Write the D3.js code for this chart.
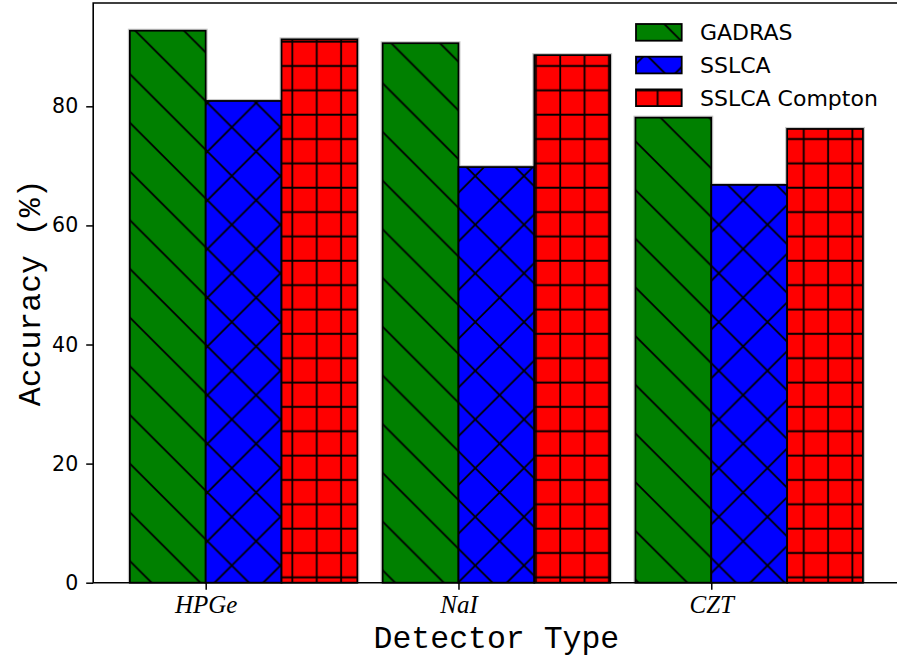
<!DOCTYPE html>
<html>
<head>
<meta charset="utf-8">
<script src="https://cdn.jsdelivr.net/npm/d3@7"></script>
<style>
body { margin: 0; background: #fff; }
svg { display: block; }
</style>
</head>
<body>
<svg width="897" height="658"></svg>
<script>
'use strict';

// data
const detectors = ['HPGe', 'NaI', 'CZT'];
const methods = ['GADRAS', 'SSLCA', 'SSLCA Compton'];
const gadras = [92.7, 90.6, 78.1];
const sslca = [80.9, 69.8, 66.8];
const sslcaCompton = [91.25, 88.6, 76.2];
const yTicks = [0, 20, 40, 60, 80];

const series = [gadras, sslca, sslcaCompton];
const colors = ['#008000', '#0000ff', '#ff0000'];
const hatchIds = ['hatch-back', 'hatch-x', 'hatch-grid'];
const barW = 0.3;
const monoFont = '"Courier New", "Nimbus Mono PS", "FreeMono", "Liberation Mono", monospace';

const svg = d3.select('svg');

const x = d3.scaleLinear().domain([-0.445, 2.745]).range([93.2, 899.6]);
const y = d3.scaleLinear().domain([0, 97.35]).range([582.7, 3]);

// hatch patterns, anchored to the page like matplotlib's
const P = 48.7, c1 = 41.5, c2 = 18.1;
const G = 24.35, gx = 0.2, gy = 17.3;
const defs = svg.append('defs');

function diagPattern(id, fill, both) {
    const p = defs.append('pattern')
        .attr('id', id)
        .attr('patternUnits', 'userSpaceOnUse')
        .attr('width', P).attr('height', P);
    p.append('rect').attr('width', P).attr('height', P).attr('fill', fill);
    let d = '';
    for (let k = -2; k <= 2; k++) {
        d += `M${-P},${-P + c1 + k * P}L${2 * P},${2 * P + c1 + k * P}`;
        if (both) d += `M${-P},${P + c2 + k * P}L${2 * P},${-2 * P + c2 + k * P}`;
    }
    p.append('path').attr('d', d).attr('stroke', '#000').attr('stroke-width', 1.8).attr('fill', 'none');
}
diagPattern('hatch-back', colors[0], false);
diagPattern('hatch-x', colors[1], true);

const grid = defs.append('pattern')
    .attr('id', 'hatch-grid')
    .attr('patternUnits', 'userSpaceOnUse')
    .attr('width', G).attr('height', G);
grid.append('rect').attr('width', G).attr('height', G).attr('fill', colors[2]);
let gd = '';
for (let k = -1; k <= 1; k++) {
    gd += `M${gx + k * G},${-G}L${gx + k * G},${2 * G}`;
    gd += `M${-G},${gy + k * G}L${2 * G},${gy + k * G}`;
}
grid.append('path').attr('d', gd).attr('stroke', '#000').attr('stroke-width', 1.8).attr('fill', 'none');

// bars
series.forEach((vals, s) => {
    svg.append('g').selectAll('rect').data(vals).enter().append('rect')
        .attr('x', (d, i) => x(i + (s - 1) * barW) - 1.5)
        .attr('y', d => y(d) - 1.5)
        .attr('width', x(barW) - x(0) + 3)
        .attr('height', d => y(0) - y(d) + 1.5)
        .attr('fill', 'none')
        .attr('stroke', '#c8c8c8')
        .attr('stroke-width', 1);
});
series.forEach((vals, s) => {
    svg.append('g').selectAll('rect').data(vals).enter().append('rect')
        .attr('x', (d, i) => x(i + (s - 1) * barW))
        .attr('y', d => y(d))
        .attr('width', x(barW) - x(0))
        .attr('height', d => y(0) - y(d))
        .attr('fill', `url(#${hatchIds[s]})`)
        .attr('stroke', '#000')
        .attr('stroke-width', 1.8);
});

// axes
const yAxis = svg.append('g')
    .attr('transform', `translate(${x.range()[0]},0)`)
    .call(d3.axisLeft(y).tickValues(yTicks).tickSize(7).tickPadding(8));
yAxis.select('.domain').remove();
yAxis.selectAll('.tick line').attr('stroke-width', 1.5);
yAxis.selectAll('.tick text')
    .attr('font-family', '"DejaVu Sans", sans-serif')
    .attr('font-size', 20.5)
    .attr('fill', '#000');

const xAxis = svg.append('g')
    .attr('transform', `translate(0,${y(0)})`)
    .call(d3.axisBottom(x).tickValues([0, 1, 2]).tickFormat(i => detectors[i]).tickSize(7).tickPadding(6));
xAxis.select('.domain').remove();
xAxis.selectAll('.tick line').attr('stroke-width', 1.5);
xAxis.selectAll('.tick text')
    .attr('font-family', '"Liberation Serif", serif')
    .attr('font-style', 'italic')
    .attr('font-size', 25)
    .attr('fill', '#000');

// spines
const x0 = x.range()[0];
svg.append('path')
    .attr('d', `M897,${y.range()[1]}H${x0}V${y(0)}H897`)
    .attr('fill', 'none')
    .attr('stroke', '#000')
    .attr('stroke-width', 1.6);

// axis titles
svg.append('text')
    .attr('x', (x.range()[0] + x.range()[1]) / 2)
    .attr('y', 648)
    .attr('text-anchor', 'middle')
    .attr('font-family', monoFont)
    .attr('font-size', 31.5)
    .text('Detector Type');

svg.append('text')
    .attr('transform', `translate(40,${(y.range()[0] + y.range()[1]) / 2}) rotate(-90)`)
    .attr('text-anchor', 'middle')
    .attr('font-family', monoFont)
    .attr('font-size', 31.5)
    .text('Accuracy (%)');

// legend
const legend = svg.append('g');
methods.forEach((m, i) => {
    const top = 24 + i * 32.7;
    legend.append('rect')
        .attr('x', 636).attr('y', top)
        .attr('width', 45.7).attr('height', 16.7)
        .attr('fill', `url(#${hatchIds[i]})`)
        .attr('stroke', '#000')
        .attr('stroke-width', 1.8);
    legend.append('text')
        .attr('x', 700).attr('y', top + 16.3)
        .attr('font-family', '"DejaVu Sans", sans-serif')
        .attr('font-size', 22)
        .text(m);
});
</script>
</body>
</html>
